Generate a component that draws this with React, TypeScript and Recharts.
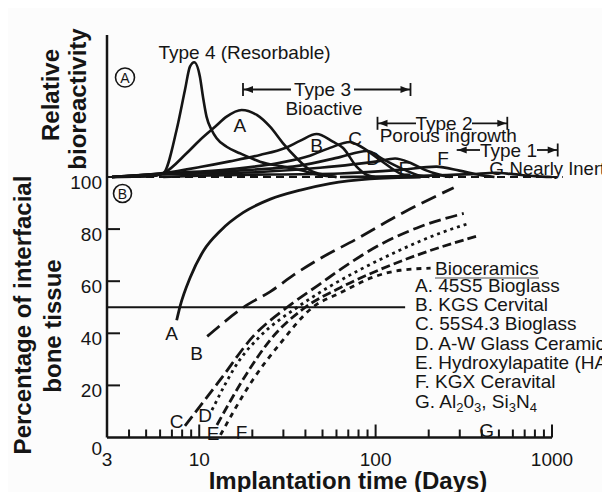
import React from 'react'
import { LineChart, Line, XAxis, YAxis, ReferenceLine, ReferenceDot } from 'recharts'

// ---- data: [days, value] ----
// top panel, relative bioactivity (arbitrary units, 0 = baseline)
const type4Curve = [[3.2, 0], [5.2, 0.05], [6.25, 0.26], [7.44, 3.31], [8.3, 6.13], [8.86, 7.77], [9.37, 8.08], [10.09, 7.06], [10.5, 5.65], [11, 4.25], [11.76, 3.31], [12.55, 2.73], [14.3, 2.13], [17, 1.67], [22.1, 1.08], [29.9, 0.73], [37.2, 0.49], [48, 0.15], [60, 0]]
const bioA = [[3.2, 0], [5.2, 0.05], [6.25, 0.26], [8.48, 1.67], [10.1, 2.61], [12.3, 3.54], [14.3, 4.25], [17.4, 4.72], [21.2, 4.37], [25.2, 3.54], [29.8, 2.39], [35.6, 1.34], [42.4, 0.49], [51.6, 0.14], [60, 0]]
const bioB = [[3.2, 0], [6.25, 0.28], [10.1, 0.7], [14.9, 1.1], [22.1, 1.55], [30.7, 2.04], [37.2, 2.54], [46.3, 3.03], [57.2, 2.49], [65.4, 2.04], [78, 0.73], [89.4, 0.14], [99, 0]]
const bioC = [[3.2, 0], [6.25, 0.25], [14.9, 0.55], [28.6, 1.0], [42.4, 1.5], [55.1, 2.05], [71.5, 2.46], [79.4, 2.25], [106, 1.2], [137, 0.26], [157, 0]]
const bioD = [[3.2, 0], [6.25, 0.22], [19.4, 0.5], [37.2, 0.8], [62.8, 1.4], [89.3, 1.83], [112, 1.2], [146, 0.5], [177, 0.1], [202, 0]]
const bioE = [[3.2, 0], [6.25, 0.18], [22.1, 0.35], [48.3, 0.65], [102, 1.1], [129, 1.3], [157, 1.0], [190, 0.5], [232, 0.15], [264, 0]]
const bioF = [[6.25, 0], [10.1, 0.1], [62.8, 0.25], [137, 0.5], [221, 0.73], [299, 0.45], [388, 0.15], [472, 0]]
const bioG = [[62.8, 0], [200, 0.1], [350, 0.2], [480, 0.3], [600, 0.2], [800, 0.06], [1000, 0]]

// bottom panel, percentage of interfacial bone tissue
const boneA = [[7.45, 45], [7.8, 50.5], [8.9, 61.5], [10.6, 71.8], [13.2, 79.4], [17.8, 86.4], [25.3, 91.5], [37.5, 95], [55, 97.5], [93, 99.3], [180, 100]]
const boneB = [[11.1, 38.8], [18.7, 50.9], [25.3, 56], [34.5, 62.5], [46.5, 68], [78.5, 76.3], [144, 86.4], [277, 95.9]]
const boneC = [[8.3, 4.5], [13.1, 22], [20.2, 38.8], [31.5, 50], [48.5, 59], [68, 66], [106, 74], [180, 81], [316, 86]]
const boneD = [[11.8, 10.5], [17, 29.9], [22.1, 38.8], [36, 50], [55, 58], [82, 64.5], [138, 72], [233, 78.5], [332, 82]]
const boneE = [[12.6, 4.8], [18.7, 24.8], [25.3, 37.5], [40, 50], [63, 57.5], [106, 64.5], [180, 70.5], [384, 77.5]]
const boneF = [[13.2, 1.0], [20.2, 22.3], [28.7, 36], [44, 50], [63, 55.5], [97, 61.6], [138, 64.2], [205, 65]]

const topLabels = [['A', 17, 3.66], ['B', 46.3, 2.25], ['C', 76.4, 2.73], ['D', 96.9, 1.32], ['E', 146.5, 0.61], ['F', 241.5, 1.32], ['G', 485, 0.61]]
const bottomLabels = [['A', 6.97, 40.1], ['B', 9.66, 32.3], ['C', 7.45, 6.1], ['D', 10.8, 8.6], ['E', 12.0, 1.7], ['F', 17.4, 2.2], ['G', 426, 2.9]]

const xTicks = [3, 4, 5, 6, 7, 8, 9, 10, 20, 30, 40, 50, 60, 70, 80, 90, 100, 200, 300, 400, 500, 600, 700, 800, 900, 1000]
const xTickLabels = [3, 10, 100, 1000]
const yTicks = [0, 20, 40, 60, 80, 100]

const legendItems = ['A. 45S5 Bioglass', 'B. KGS Cervital', 'C. 55S4.3 Bioglass', 'D. A-W Glass Ceramic', 'E. Hydroxylapatite (HA)', 'F. KGX Ceravital']

const pts = (a: number[][]) => a.map(([d, v]) => ({ d, v }))

const FONT = "'Liberation Sans', Arial, Helvetica, sans-serif"
const INK = '#151515'
const W = 610
const H = 500
const LEFT = 67
const YW = 40
const RIGHT = 58

const topSeries = [type4Curve, bioA, bioB, bioC, bioD, bioE, bioF, bioG]
const bottomSeries = [
  { data: boneA, dash: undefined },
  { data: boneB, dash: '16 7' },
  { data: boneC, dash: '12 5' },
  { data: boneD, dash: '3 4' },
  { data: boneE, dash: '9 4' },
  { data: boneF, dash: '5 5' }
]

function XTick(props: any) {
  const { x, y, payload } = props
  const v = payload.value
  const len = v === 10 || v === 100 || v === 1000 ? 13 : 8
  return (
    <g>
      {v !== 3 && <line x1={x} x2={x} y1={y} y2={y - len} stroke={INK} strokeWidth={2} />}
      {xTickLabels.includes(v) && (
        <text x={x} y={y + 28} textAnchor="middle" fontSize={19} fontFamily={FONT} fill={INK}>{v}</text>
      )}
    </g>
  )
}

function YTick(props: any) {
  const { x, y, payload } = props
  const v = payload.value
  return (
    <g>
      {v !== 0 && <line x1={x} x2={x + 13} y1={y} y2={y} stroke={INK} strokeWidth={2} />}
      <text x={x - 5} y={y + (v === 0 ? 17 : 12)} textAnchor="end" fontSize={19} fontFamily={FONT} fill={INK}>{v}</text>
    </g>
  )
}

function Bracket({ y, x1, x2, t1, t2, label, leftBar = true }: any) {
  return (
    <g stroke={INK} strokeWidth={1.8} fill={INK}>
      {leftBar && <line x1={x1} x2={x1} y1={y - 6.5} y2={y + 6.5} />}
      <line x1={x1} x2={t1} y1={y} y2={y} />
      <polygon points={`${x1 + 1},${y} ${x1 + 10},${y - 3.5} ${x1 + 10},${y + 3.5}`} stroke="none" />
      <text x={(t1 + t2) / 2} y={y + 6.8} textAnchor="middle" fontSize={19} fontFamily={FONT} stroke="none">{label}</text>
      <line x1={t2} x2={x2} y1={y} y2={y} />
      <polygon points={`${x2 - 1},${y} ${x2 - 10},${y - 3.5} ${x2 - 10},${y + 3.5}`} stroke="none" />
      <line x1={x2} x2={x2} y1={y - 6.5} y2={y + 6.5} />
    </g>
  )
}

export default function App() {
  const box = { position: 'absolute' as const, left: 0, top: 0 }
  return (
    <div style={{ position: 'relative', width: W, height: H, margin: -8, background: '#fcfcfc', overflow: 'hidden' }}>
      {/* bottom panel: percentage of interfacial bone tissue */}
      <div style={box}>
        <LineChart width={W} height={H} margin={{ top: 177, right: RIGHT, left: LEFT, bottom: 32.5 }}>
          <XAxis
            type="number"
            dataKey="d"
            scale="log"
            domain={[3, 1000]}
            ticks={xTicks}
            interval={0}
            tickSize={0}
            tickMargin={0}
            tickLine={false}
            tick={<XTick />}
            axisLine={{ stroke: INK, strokeWidth: 2.5 }}
            height={30}
          />
          <YAxis
            type="number"
            domain={[0, 100]}
            ticks={yTicks}
            interval={0}
            width={YW}
            tickSize={0}
            tickMargin={0}
            tickLine={false}
            tick={<YTick />}
            axisLine={{ stroke: INK, strokeWidth: 2.5 }}
          />
          <ReferenceLine segment={[{ x: 3, y: 50 }, { x: 147, y: 50 }]} stroke={INK} strokeWidth={2.2} ifOverflow="visible" />
          {bottomSeries.map((s, i) => (
            <Line
              key={i}
              data={pts(s.data)}
              dataKey="v"
              type="monotone"
              stroke={INK}
              strokeWidth={2.8}
              strokeDasharray={s.dash}
              dot={false}
              activeDot={false}
              isAnimationActive={false}
            />
          ))}
          {bottomLabels.map(([t, d, v]) => (
            <ReferenceDot
              key={'b' + t}
              x={d as number}
              y={v as number}
              r={0}
              fill="none"
              stroke="none"
              label={{ value: t, position: 'center', fontSize: 19, fill: INK, fontFamily: FONT }}
            />
          ))}
        </LineChart>
      </div>

      {/* top panel: relative bioactivity */}
      <div style={box}>
        <LineChart width={W} height={H} margin={{ top: 35, right: RIGHT, left: LEFT, bottom: 323 }}>
          <XAxis type="number" dataKey="d" scale="log" domain={[3, 1000]} hide />
          <YAxis
            type="number"
            domain={[0, 10]}
            width={YW}
            tick={false}
            tickLine={false}
            axisLine={{ stroke: INK, strokeWidth: 2.5 }}
          />
          <ReferenceLine
            segment={[{ x: 3, y: 0 }, { x: 1150, y: 0 }]}
            stroke={INK}
            strokeWidth={2}
            strokeDasharray="8 5"
            ifOverflow="visible"
          />
          {topSeries.map((s, i) => (
            <Line
              key={i}
              data={pts(s)}
              dataKey="v"
              type="monotone"
              stroke={INK}
              strokeWidth={2.6}
              dot={false}
              activeDot={false}
              isAnimationActive={false}
            />
          ))}
          {topLabels.map(([t, d, v]) => (
            <ReferenceDot
              key={'t' + t}
              x={d as number}
              y={v as number}
              r={0}
              fill="none"
              stroke="none"
              label={{ value: t, position: 'center', fontSize: 19, fill: INK, fontFamily: FONT }}
            />
          ))}
          <ReferenceDot
            x={575}
            y={0.61}
            r={0}
            fill="none"
            stroke="none"
            label={{ value: 'Nearly Inert', position: 'right', offset: 0, fontSize: 18.5, fill: INK, fontFamily: FONT }}
          />
        </LineChart>
      </div>

      {/* titles, type brackets, legend */}
      <svg width={W} height={H} style={{ ...box, pointerEvents: 'none' }} fontFamily={FONT} fill={INK}>
        <g fontWeight="bold" fontSize={24} textAnchor="middle">
          <text transform="translate(58.6,95) rotate(-90)">Relative</text>
          <text transform="translate(86,99) rotate(-90)">bioreactivity</text>
          <text transform="translate(31,315) rotate(-90)">Percentage of interfacial</text>
          <text transform="translate(61,326) rotate(-90)">bone tissue</text>
          <text x={348} y={489}>Implantation time (Days)</text>
        </g>

        <circle cx={125} cy={77.5} r={9.5} fill="none" stroke={INK} strokeWidth={1.6} />
        <text x={125} y={82.5} textAnchor="middle" fontSize={14}>A</text>
        <circle cx={122.5} cy={193.5} r={9} fill="none" stroke={INK} strokeWidth={1.6} />
        <text x={122.5} y={198.5} textAnchor="middle" fontSize={14}>B</text>

        <text x={244.5} y={59} textAnchor="middle" fontSize={19}>Type 4 (Resorbable)</text>
        <Bracket y={89.5} x1={243} x2={410.5} t1={291} t2={354} label="Type 3" />
        <text x={324} y={115} textAnchor="middle" fontSize={19}>Bioactive</text>
        <Bracket y={123.3} x1={377.5} x2={507.3} t1={416} t2={472} label="Type 2" />
        <text x={448.3} y={141.8} textAnchor="middle" fontSize={19}>Porous ingrowth</text>
        <Bracket y={150} x1={456.7} x2={557.7} t1={480} t2={537} label="Type 1" leftBar={false} />

        <text x={435} y={274.8} fontSize={19}>Bioceramics</text>
        <line x1={435} x2={539} y1={278} y2={278} stroke="#555" strokeWidth={1.2} />
        {legendItems.map((t, i) => (
          <text key={t} x={415} y={291.8 + i * 19.3} fontSize={19}>{t}</text>
        ))}
        <text x={415} y={291.8 + 6 * 19.3} fontSize={19}>
          G. Al<tspan dy={4} fontSize={13}>2</tspan>
          <tspan dy={-4}>0</tspan>
          <tspan dy={4} fontSize={13}>3</tspan>
          <tspan dy={-4}>, Si</tspan>
          <tspan dy={4} fontSize={13}>3</tspan>
          <tspan dy={-4}>N</tspan>
          <tspan dy={4} fontSize={13}>4</tspan>
        </text>
      </svg>
    </div>
  )
}
